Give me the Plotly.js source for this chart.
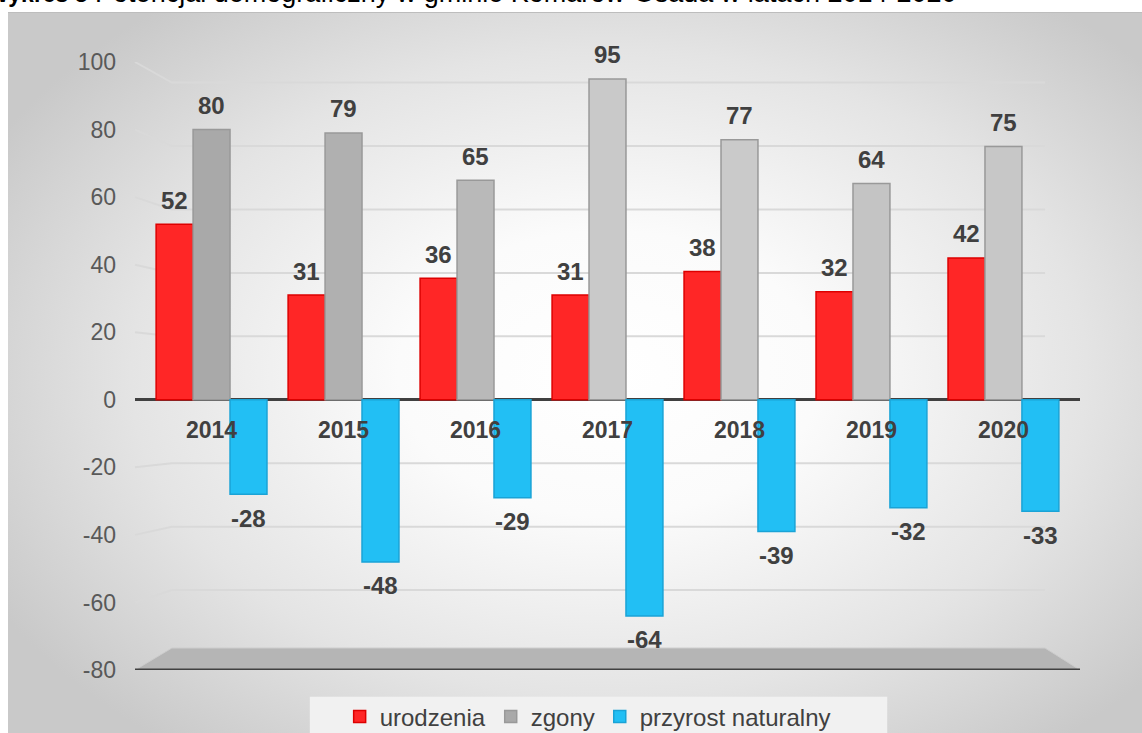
<!DOCTYPE html>
<html>
<head>
<meta charset="utf-8">
<script src="https://cdn.plot.ly/plotly-3.0.1.min.js"></script>
<style>
  html, body { margin: 0; padding: 0; background: #ffffff; }
  #wrap { position: relative; width: 1142px; height: 733px; overflow: hidden; background: #ffffff; }
  #bg { position: absolute; left: 8px; top: 12px; width: 1134px; height: 721px;
        border-top: 1px solid #bdbdbd;
        background: radial-gradient(ellipse 62% 66% at 53% 50%, #ffffff 0%, #fbfbfb 30%, #e4e4e4 68%, #c9c9c9 100%); }
  #chart { position: absolute; left: 0; top: 0; width: 1142px; height: 733px; }
</style>
</head>
<body>
<div id="wrap">
  <div id="bg"></div>
  <div id="chart"></div>
</div>
<script>
const categories = ['2014', '2015', '2016', '2017', '2018', '2019', '2020'];
const urodzenia = [52, 31, 36, 31, 38, 32, 42];
const zgony = [80, 79, 65, 95, 77, 64, 75];
const przyrost = [-28, -48, -29, -64, -39, -32, -33];
const seriesNames = ['urodzenia', 'zgony', 'przyrost naturalny'];
const yTicks = [-80, -60, -40, -20, 0, 20, 40, 60, 80, 100];
const titleText = '<b><span style="font-size:23px">Wykres 3</span></b> Potencjał demograficzny w gminie Komarów-Osada w latach 2014-2020';

const FONT = 'Liberation Sans, Arial, sans-serif';
const BAR_W = 0.28;
const offsets = [-1.5 * BAR_W, -0.5 * BAR_W, 0.5 * BAR_W];
const greyShades = ['#a9a9a9', '#b0b0b0', '#b9b9b9', '#c9c9c9', '#cacaca', '#c4c4c4', '#c7c7c7'];

function barTrace(name, values, color, lineColor, offset) {
  return {
    type: 'bar', name: name, x: categories, y: values,
    offset: offset, width: BAR_W,
    marker: {color: color, line: {color: lineColor, width: 1.5}},
    hoverinfo: 'x+y'
  };
}

const data = [
  barTrace(seriesNames[0], urodzenia, '#ff2626', '#dd0000', offsets[0]),
  barTrace(seriesNames[1], zgony, greyShades, '#999999', offsets[1]),
  barTrace(seriesNames[2], przyrost, '#22bff4', '#1aa3d6', offsets[2])
];

// value labels placed from the data arrays
const valueAnnotations = [];
[urodzenia, zgony, przyrost].forEach((vals, s) => {
  vals.forEach((v, i) => {
    valueAnnotations.push({
      x: i + offsets[s] + BAR_W / 2, y: v, xref: 'x', yref: 'y',
      text: '<b>' + v + '</b>', showarrow: false,
      yanchor: 'middle', yshift: v >= 0 ? 24 : -24,
      font: {family: FONT, size: 24, color: '#404040'}
    });
  });
});

const catAnnotations = categories.map((c, i) => ({
  x: i, y: 0, xref: 'x', yref: 'y', text: '<b>' + c + '</b>',
  showarrow: false, yshift: -30, font: {family: FONT, size: 23, color: '#404040'}
}));

// back-wall gridlines with a perspective slant at the left
const K = 0.939;
const gridShapes = yTicks.filter(v => v !== 0 && v !== -80).map(v => ({
  type: 'path', xref: 'paper', yref: 'y',
  path: 'M 0 ' + v + ' L 0.039 ' + (v * K) + ' L 0.963 ' + (v * K),
  line: {color: '#d9d9d9', width: 2}, layer: 'below'
}));

const layout = {
  width: 1142, height: 733,
  margin: {l: 135, r: 62, t: 62, b: 63, autoexpand: false},
  paper_bgcolor: 'rgba(0,0,0,0)',
  plot_bgcolor: 'rgba(0,0,0,0)',
  barmode: 'overlay',
  showlegend: true,
  legend: {
    orientation: 'h', x: 0.479, xanchor: 'center', y: -0.077, yanchor: 'middle',
    font: {family: FONT, size: 24, color: '#404040'},
    bgcolor: 'rgba(0,0,0,0)', itemwidth: 30, traceorder: 'normal'
  },
  xaxis: {
    type: 'category', showticklabels: false, showgrid: false, zeroline: false,
    showline: false, ticks: '', range: [-0.58, 6.58]
  },
  yaxis: {
    range: [-80, 100], tickvals: yTicks, ticktext: yTicks.map(String),
    tickfont: {family: FONT, size: 23, color: '#595959'},
    showgrid: false,
    zeroline: true, zerolinecolor: '#404040', zerolinewidth: 3,
    showline: false, ticks: '', ticklabelstandoff: 18
  },
  shapes: [
    {type: 'rect', xref: 'paper', yref: 'paper', x0: 0.185, x1: 0.796, y0: -0.104, y1: -0.044,
     fillcolor: '#f1f1f1', line: {width: 0}, layer: 'below'},
    {type: 'path', xref: 'paper', yref: 'y',
     path: 'M 0 -80 L 0.039 -73.5 L 0.963 -73.5 L 1 -80 Z',
     fillcolor: '#b5b5b5', line: {color: '#cccccc', width: 1}, layer: 'below'},
    {type: 'line', xref: 'paper', yref: 'y', x0: 0, x1: 1, y0: -80, y1: -80,
     line: {color: '#404040', width: 3}}
  ].concat(gridShapes),
  annotations: catAnnotations.concat(valueAnnotations).concat([{
    xref: 'paper', yref: 'paper', x: -0.159, xanchor: 'left', y: 1.0855, yanchor: 'bottom',
    text: titleText, showarrow: false, font: {family: FONT, size: 27, color: '#000000'}
  }])
};

Plotly.newPlot('chart', data, layout, {displayModeBar: false, responsive: false});
</script>
</body>
</html>
